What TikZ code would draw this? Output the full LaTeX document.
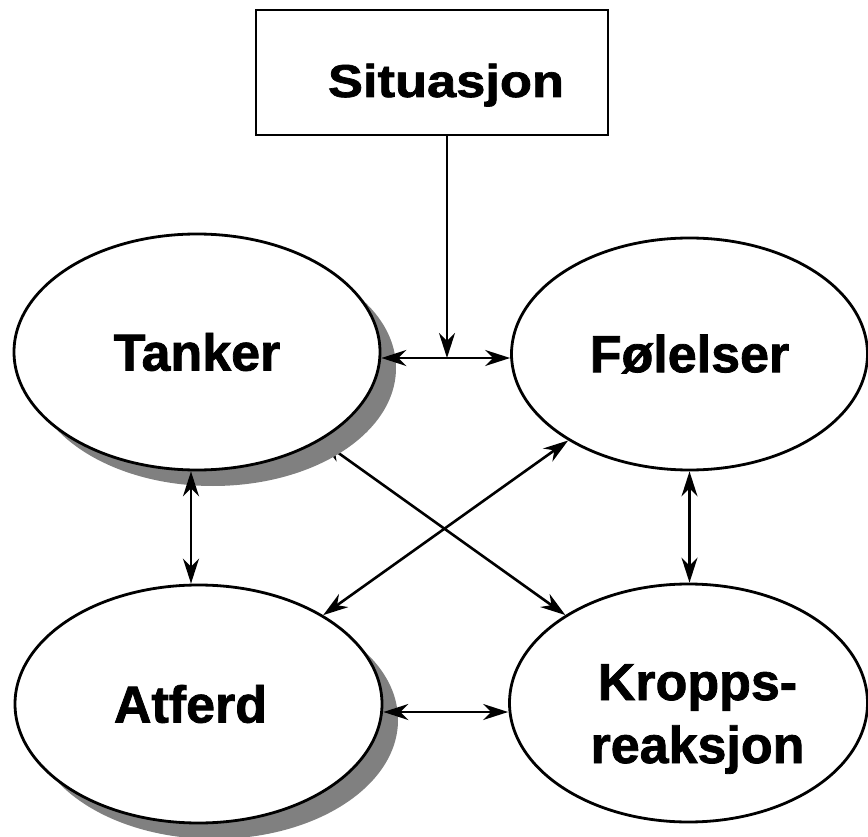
\documentclass[tikz,border=0pt]{standalone}
\usepackage{fontspec}
\setmainfont{Liberation Sans}
\newfontfamily\heavyfont[FakeBold=1.5]{Liberation Sans Bold}
\usetikzlibrary{arrows.meta,shapes.geometric,shadows,calc}
\pgfdeclarelayer{bg}
\pgfsetlayers{bg,main}
\begin{document}
\begin{tikzpicture}[x=1pt,y=-1pt,
  lbl/.style={font=\fontsize{52}{63}\selectfont\heavyfont},
  oval/.style={ellipse, draw, line width=2.8pt, fill=white, inner sep=0pt, lbl},
  shadowed/.style={drop shadow={shadow xshift=16pt, shadow yshift=-16pt, fill=black!50, opacity=1}},
  link/.style={line width=2.6pt, {Stealth[length=25pt,width=16pt,inset=8pt]}-{Stealth[length=25pt,width=16pt,inset=8pt]}},
  onelink/.style={line width=2.6pt, -{Stealth[length=25pt,width=16pt,inset=8pt]}}
]
\useasboundingbox (0,0) rectangle (868,837);

\node[draw, line width=2.8pt, fill=white, minimum width=352pt, minimum height=125pt,
      inner sep=0pt, text height=49pt, text depth=0pt,
      font=\fontsize{46}{54}\selectfont\heavyfont] (sit) at (432,72.5)
      {\hspace*{28pt}\scalebox{1.14}[1]{Situasjon}};

\node[oval, shadowed, minimum width=366pt, minimum height=236pt] (tanker) at (197,352) {Tanker};
\node[oval, minimum width=356pt, minimum height=232pt] (folelser) at (689.5,354) {Følelser};
\node[oval, shadowed, minimum width=367pt, minimum height=238pt] (atferd) at (198.5,704) {\hspace*{-16pt}Atferd};
\node[oval, minimum width=358pt, minimum height=238pt, align=center,
      text height=120pt, text depth=0pt] (kropp) at (688.5,703) {\hspace*{18pt}Kropps-\\\hspace*{18pt}reaksjon};

\coordinate (mid) at (447,358);
\draw[onelink] (sit.south -| mid) -- (mid);
\draw[link] (mid -| tanker.east) -- (mid -| folelser.west);
\draw[link] ([xshift=-6pt]tanker.south) -- ([xshift=-6pt]tanker.south |- atferd.north);
\draw[link] (folelser.south) -- (folelser.south |- kropp.north);
\draw[link] ([yshift=-8pt]atferd.east) -- ([yshift=-8pt]atferd.east -| kropp.west);

\begin{pgfonlayer}{bg}
\draw[link] (tanker) -- (kropp);
\draw[link] (folelser) -- (atferd);
\end{pgfonlayer}
\end{tikzpicture}
\end{document}
